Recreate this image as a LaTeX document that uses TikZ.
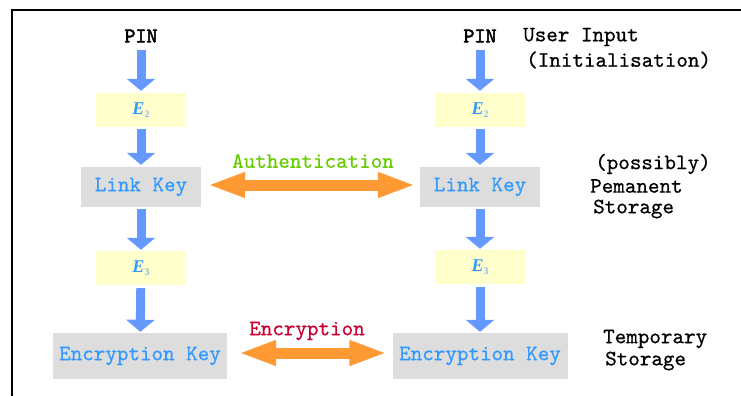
\documentclass[tikz,border=0pt]{standalone}
\usepackage{fontspec}
\usetikzlibrary{arrows.meta}
\newfontfamily\serfnt{Liberation Serif}
\newfontfamily\monofnt[FakeBold=0.6]{lmmono10-regular.otf}
\newfontfamily\pinfnt[FakeBold=2.5]{lmmono10-regular.otf}
\definecolor{arrblue}{HTML}{6699FF}
\definecolor{txtblue}{HTML}{3399FF}
\definecolor{subblue}{HTML}{88BBEE}
\definecolor{boxyellow}{HTML}{FFFFCC}
\definecolor{boxgray}{HTML}{DDDDDD}
\definecolor{authgreen}{HTML}{66CC00}
\definecolor{encred}{HTML}{CC0033}
\definecolor{arrorange}{HTML}{FF9933}
\newcommand\ekey[1]{{\serfnt\bfseries\itshape\fontsize{18}{18}\selectfont\color{txtblue}E}\raisebox{-3pt}{\serfnt\bfseries\fontsize{10}{10}\selectfont\color{subblue}#1}}
\begin{document}
\begin{tikzpicture}[x=1pt,y=-1pt,
  lbl/.style={font=\monofnt\fontsize{22}{24}\selectfont, inner sep=0pt},
  keybox/.style={lbl, fill=boxgray, text=txtblue, minimum height=40pt},
  ebox/.style={fill=boxyellow, minimum width=90pt, minimum height=34pt, inner sep=0pt},
  flow/.style={draw=arrblue, line width=9pt, -{Triangle[width=28pt,length=12pt]}},
  link/.style={draw=arrorange, line width=11pt,
    {Triangle[width=23pt,length=38pt]}-{Triangle[width=23pt,length=38pt]}},
  side/.style={lbl, anchor=west, text=black},
  pinlbl/.style={inner sep=0pt, font=\pinfnt\fontsize{21}{24}\selectfont}
]
\useasboundingbox (0,0) rectangle (741,396);
\fill[white] (0,0) rectangle (741,396);
\draw[line width=2pt] (12,396) -- (12,10) -- (741,10);

% left column
\node[pinlbl] (pinL) at (141,36) {PIN};
\node[ebox] (e2L) at (141,110) {\ekey{2}};
\node[keybox, minimum width=120pt] (lkL) at (141,187) {Link Key};
\node[ebox] (e3L) at (141,268) {\ekey{3}};
\node[keybox, minimum width=174pt, minimum height=46pt] (ekL) at (140,356) {Encryption Key};

% right column
\node[pinlbl] (pinR) at (480,36) {PIN};
\node[ebox] (e2R) at (480,110) {\ekey{2}};
\node[keybox, minimum width=120pt] (lkR) at (480,187) {Link Key};
\node[ebox] (e3R) at (480,267) {\ekey{3}};
\node[keybox, minimum width=175pt, minimum height=46pt] (ekR) at (480,356) {Encryption Key};

% flow arrows
\foreach \s in {L,R}{
  \draw[flow, shorten <=7pt, shorten >=2pt] (pin\s) -- (e2\s);
  \draw[flow, shorten <=2pt, shorten >=2pt] (e2\s) -- (lk\s);
  \draw[flow, shorten <=2pt, shorten >=1pt] (lk\s) -- (e3\s);
  \draw[flow, shorten <=3pt, shorten >=1pt] (e3\s) -- (ek\s);
}

% exchange arrows
\draw[link] ([xshift=6pt,yshift=2pt]lkL.east) -- ([xshift=-4pt,yshift=2pt]lkR.west);
\node[lbl, text=authgreen] (auth) at (313,161) {Authentication};
\draw[link] ([xshift=11pt,yshift=3pt]ekL.east) -- ([xshift=-5pt,yshift=3pt]ekR.west);
\node[lbl, text=encred] (enc) at (307,331) {Encryption};

% side labels
\node[side] (ui) at (523,37) {User Input};
\node[side] (init) at (526,60) {(Initialisation)};
\node[side] (poss) at (595,164) {(possibly)};
\node[side] (perm) at (590,186) {Pemanent};
\node[side] (stor1) at (593,209) {Storage};
\node[side] (temp) at (603,339) {Temporary};
\node[side] (stor2) at (605,361) {Storage};
\end{tikzpicture}
\end{document}
